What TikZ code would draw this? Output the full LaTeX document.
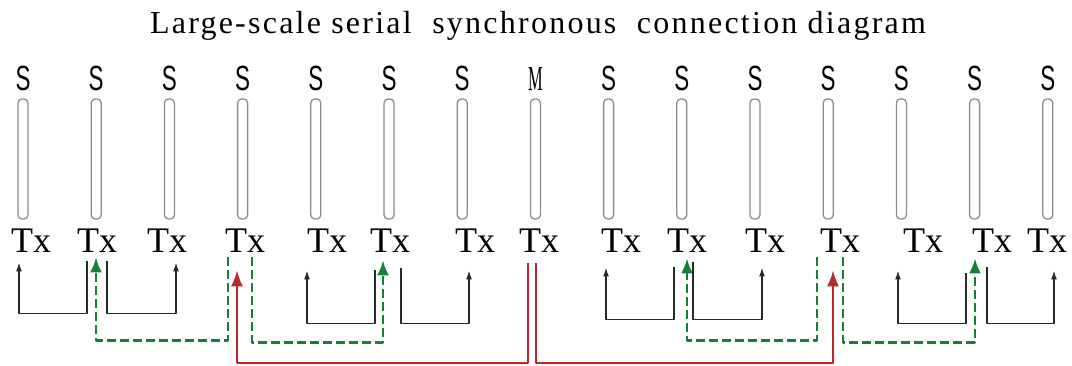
\documentclass[tikz,border=0pt]{standalone}
\usepackage{fontspec}
\setmainfont{Liberation Serif}
\newfontfamily\slavefont[FakeStretch=0.64]{Liberation Sans}
\newfontfamily\masterfont[FakeStretch=0.47]{Liberation Serif}
\newfontfamily\titlefont[LetterSpace=7]{Liberation Serif}
\usetikzlibrary{arrows.meta,calc}
\definecolor{linkgreen}{RGB}{20,128,60}
\definecolor{linkred}{RGB}{185,40,40}
\definecolor{linkgray}{RGB}{40,40,40}

\begin{document}
\begin{tikzpicture}[
	x=0.5pt,
	y=-0.5pt,
	line join=round,
	>=latex,
	unit/.style={
		shape=rectangle,
		minimum width=5pt,
		minimum height=60pt,
		rounded corners=2pt,
		draw=gray!90,
		line width=0.65pt,
		inner sep=0pt
	},
	tag/.style={font=\slavefont\fontsize{17.5}{18}\selectfont, inner sep=0pt, anchor=base},
	txlabel/.style={font=\fontsize{18}{20}\selectfont, inner sep=2pt, anchor=base},
	relay/.style={draw=linkgray, line width=0.75pt, -{Latex[length=4.5pt,width=3pt]}},
	sync/.style={draw=linkgreen, line width=1.2pt, dash pattern=on 4.5pt off 2pt, -{Latex[length=7.5pt,width=6pt]}},
	master/.style={draw=linkred, line width=1pt, -{Latex[length=8pt,width=6pt]}}
	]
	\useasboundingbox (0,0) rectangle (1072,365);
	\node [font=\titlefont\fontsize{16}{18}\selectfont, anchor=base] (title) at (538,33)
		{Large-scale serial\ \ synchronous\ \ connection diagram};
	\foreach \lab [count=\i, evaluate={\bx=23+73.2*(\i-1);}] in
	{S,S,S,S,S,S,S,{\masterfont M},S,S,S,S,S,S,S}{
		\node [unit] (bar\i) at (\bx,159) {};
		\node [tag] (top\i) at (\bx,90) {\lab};
	}
	\foreach \tx [count=\i] in {31,97,167,245,327,390,475,539,621,687,765,840,923,992,1047}{
		\node [txlabel] (tx\i) at (\tx,252) {Tx};
	}
	\draw [master] ($(tx8.south)+(-11,7)$) -- ++(0,100) -| ($(tx4.south)+(-8,14)$);
	\draw [master] ($(tx8.south)+(-3,7)$) -- ++(0,100) -| ($(tx12.south)+(-7,14)$);
	\draw [sync] ($(tx4.south)+(-17,1)$) -- ++(0,83) -| ($(tx2.south)+(-1,1)$);
	\draw [sync] ($(tx4.south)+(7,1)$) -- ++(0,85) -| ($(tx6.south)+(-7,4)$);
	\draw [sync] ($(tx12.south)+(-23,1)$) -- ++(0,83) -| ($(tx10.south)+(0,2)$);
	\draw [sync] ($(tx12.south)+(3,1)$) -- ++(0,85) -| ($(tx14.south)+(-17,2)$);
	\draw [relay] ($(tx2.south)+(-10,5)$) -- ++(0,52) -| ($(tx1.south)+(-12,6)$);
	\draw [relay] ($(tx2.south)+(10,5)$) -- ++(0,52) -| ($(tx3.south)+(9,6)$);
	\draw [relay] ($(tx6.south)+(-15,14)$) -- ++(0,53) -| ($(tx5.south)+(-20,14)$);
	\draw [relay] ($(tx6.south)+(11,12)$) -- ++(0,55) -| ($(tx7.south)+(-6,14)$);
	\draw [relay] ($(tx10.south)+(-13,11)$) -- ++(0,52) -| ($(tx9.south)+(-15,11)$);
	\draw [relay] ($(tx10.south)+(6,6)$) -- ++(0,57) -| ($(tx11.south)+(-3,11)$);
	\draw [relay] ($(tx14.south)+(-26,17)$) -- ++(0,50) -| ($(tx13.south)+(-25,14)$);
	\draw [relay] ($(tx14.south)+(-5,11)$) -- ++(0,56) -| ($(tx15.south)+(7,14)$);
\end{tikzpicture}
\end{document}
